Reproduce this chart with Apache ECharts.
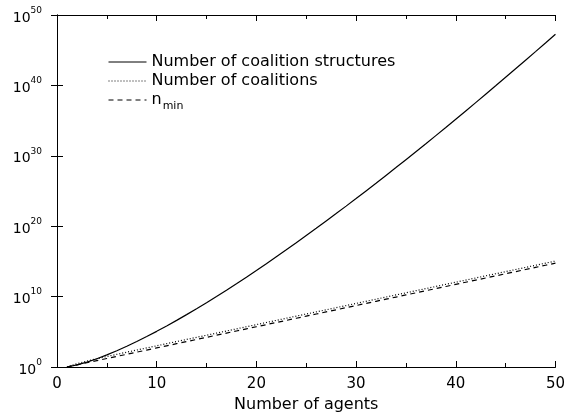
<!DOCTYPE html>
<html>
<head>
<meta charset="utf-8">
<script src="https://cdn.jsdelivr.net/npm/echarts@6/dist/echarts.min.js"></script>
<style>html,body{margin:0;padding:0;background:#fff}#c{width:568px;height:418px}</style>
</head>
<body>
<div id="c"></div>
<script>
var agents = [1,2,3,4,5,6,7,8,9,10,11,12,13,14,15,16,17,18,19,20,21,22,23,24,25,26,27,28,29,30,31,32,33,34,35,36,37,38,39,40,41,42,43,44,45,46,47,48,49,50];
var coalitionStructures = [1,2,5,15,52,203,877,4140,21147,115975,678570,4213597,27644437,190899322,1382958545,10480142147,82864869804,682076806159,5832742205057,51724158235372,474869816156751,4506715738447323,4.4152e16,4.4596e17,4.6386e18,4.9631e19,5.4572e20,6.1605e21,7.1340e22,8.4675e23,1.0293e25,1.2806e26,1.6290e27,2.1180e28,2.8110e29,3.8060e30,5.2560e31,7.3950e32,1.0600e34,1.5745e35,2.3620e36,3.6020e37,5.5830e38,8.7930e39,1.4070e41,2.2860e42,3.7720e43,6.3180e44,1.0740e46,1.8572e47];
var coalitions = [1,3,7,15,31,63,127,255,511,1023,2047,4095,8191,16383,32767,65535,131071,262143,524287,1048575,2097151,4194303,8388607,16777215,33554431,67108863,134217727,268435455,536870911,1073741823,2147483647,4294967295,8589934591,17179869183,34359738367,68719476735,137438953471,274877906943,549755813887,1099511627775,2199023255551,4398046511103,8796093022207,17592186044415,35184372088831,70368744177663,140737488355327,281474976710655,562949953421311,1125899906842623];
var nMin = [1,2,4,8,16,32,64,128,256,512,1024,2048,4096,8192,16384,32768,65536,131072,262144,524288,1048576,2097152,4194304,8388608,16777216,33554432,67108864,134217728,268435456,536870912,1073741824,2147483648,4294967296,8589934592,17179869184,34359738368,68719476736,137438953472,274877906944,549755813888,1099511627776,2199023255552,4398046511104,8796093022208,17592186044416,35184372088832,70368744177664,140737488355328,281474976710656,562949953421312];
var xTicks = [0,10,20,30,40,50];
var yExponents = [0,10,20,30,40,50];
var seriesNames = ['Number of coalition structures','Number of coalitions','n_min'];

function pairs(vals){ return agents.map(function(a,i){ return [a, vals[i]]; }); }
var FONT = '"DejaVu Sans", Verdana, sans-serif';

var chart = echarts.init(document.getElementById('c'), null, {renderer:'canvas'});
var axisLine = {show:true, lineStyle:{color:'#000', width:1}};
chart.setOption({
  animation:false,
  backgroundColor:'#fff',
  grid:{left:57, right:11, top:15, bottom:44, containLabel:false},
  legend:{
    orient:'vertical', left:108, top:54, padding:0, itemWidth:38, itemHeight:14, itemGap:3,
    data:seriesNames,
    itemStyle:{opacity:0},
    lineStyle:{width:1},
    textStyle:{fontFamily:FONT, fontSize:16, color:'#000', lineHeight:16,
      rich:{n:{fontFamily:FONT,fontSize:16,color:'#000',lineHeight:16}, m:{fontFamily:FONT,fontSize:11,color:'#000',padding:[12,0,0,1]}}},
    formatter:function(name){ return name==='n_min' ? '{n|n}{m|min}' : name; }
  },
  xAxis:[
    {type:'value', min:xTicks[0], max:xTicks[xTicks.length-1], interval:10, position:'bottom',
     name:'Number of agents', nameLocation:'middle', nameGap:30,
     nameTextStyle:{fontFamily:FONT, fontSize:16, color:'#000'},
     axisLine:axisLine,
     axisTick:{show:true, inside:true, length:6, lineStyle:{color:'#000'}},
     minorTick:{show:true, splitNumber:2, length:4, lineStyle:{color:'#000'}},
     axisLabel:{fontFamily:FONT, fontSize:15, color:'#000', margin:10},
     splitLine:{show:false}},
    {type:'value', min:xTicks[0], max:xTicks[xTicks.length-1], interval:10, position:'top',
     axisLine:axisLine,
     axisTick:{show:true, inside:true, length:6, lineStyle:{color:'#000'}},
     minorTick:{show:true, splitNumber:2, length:4, lineStyle:{color:'#000'}},
     axisLabel:{show:false}, splitLine:{show:false}}
  ],
  yAxis:[
    {type:'log', logBase:10, min:1, max:1e50, splitNumber:5, position:'left',
     axisLine:axisLine,
     axisTick:{show:true, inside:true, length:6, lineStyle:{color:'#000'}},
     axisLabel:{margin:15, fontFamily:FONT, color:'#000',
       formatter:function(v){ var e=Math.round(Math.log10(v)); return '{b|10}{s|'+e+'}'; },
       rich:{b:{fontFamily:FONT,fontSize:14,color:'#000',padding:[6,0,0,0]}, s:{fontFamily:FONT,fontSize:9,color:'#000',padding:[0,0,9,0]}}},
     splitLine:{show:false}},
    {type:'log', logBase:10, min:1, max:1e50, splitNumber:5, position:'right',
     axisLine:axisLine,
     axisTick:{show:true, inside:true, length:6, lineStyle:{color:'#000'}},
     axisLabel:{show:false}, splitLine:{show:false}}
  ],
  series:[
    {name:seriesNames[0], type:'line', data:pairs(coalitionStructures), symbol:'none', color:'#000',
     itemStyle:{opacity:0}, lineStyle:{color:'#000', width:1.2, type:'solid'}},
    {name:seriesNames[1], type:'line', data:pairs(coalitions), symbol:'none', color:'#000',
     itemStyle:{opacity:0}, lineStyle:{color:'#000', width:1.2, type:[1,2]}},
    {name:seriesNames[2], type:'line', data:pairs(nMin), symbol:'none', color:'#000',
     itemStyle:{opacity:0}, lineStyle:{color:'#000', width:1.2, type:[5,4]}}
  ]
});
</script>
</body>
</html>
